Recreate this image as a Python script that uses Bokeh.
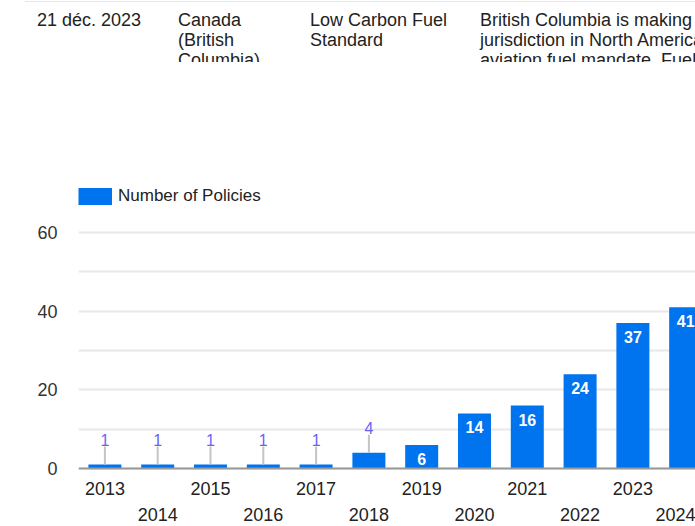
from bokeh.plotting import figure
from bokeh.models import (Range1d, FixedTicker, LinearAxis, Span, Div, ColumnDataSource)
from bokeh.layouts import column
from bokeh.core.properties import value
from bokeh.embed import file_html
from bokeh.resources import INLINE

# ---- data ----
years = [2013, 2014, 2015, 2016, 2017, 2018, 2019, 2020, 2021, 2022, 2023, 2024]
policies = [1, 1, 1, 1, 1, 4, 6, 14, 16, 24, 37, 41]
series_name = "Number of Policies"
y_ticks = [0, 20, 40, 60]
y_minor = [10, 30, 50]

table_date = "21 déc. 2023"
table_country = ["Canada", "(British", "Columbia)"]
table_policy = ["Low Carbon Fuel", "Standard"]
table_desc = ["British Columbia is making history as the first",
              "jurisdiction in North America to implement a",
              "aviation fuel mandate. Fuel suppliers will"]

FONT = "Liberation Sans"
BLUE = "#0073ee"

# ---- table row above the chart ----
def col_html(left, lines):
    return ('<div style="position:absolute;left:%dpx;top:10px;white-space:nowrap;">%s</div>'
            % (left, "<br>".join(lines)))

html = ('<div style="position:relative;width:695px;height:62px;overflow:hidden;'
        'font-family:\'Liberation Sans\',Arial,sans-serif;font-size:18px;line-height:20px;color:#222;">'
        '<div style="position:absolute;left:25px;right:0;top:1px;height:1px;background:#e6e6e6;"></div>'
        + col_html(37, [table_date])
        + col_html(178, table_country)
        + col_html(310, table_policy)
        + col_html(480, table_desc)
        + '</div>')
div = Div(text=html, width=695, height=62, margin=(0, 0, 0, 0), styles={"overflow": "hidden"})

# ---- chart ----
y_start, y_end = -0.5, 71.7
x_start, x_end = 2012.5, 2024.186
frame_h = 284

p = figure(width=695, height=464, output_backend="svg", toolbar_location=None,
           x_range=Range1d(x_start, x_end), y_range=Range1d(y_start, y_end),
           min_border_left=78, min_border_right=0, min_border_top=124, min_border_bottom=56,
           x_axis_location=None, margin=(0, 0, 0, 0))
p.outline_line_color = None
p.background_fill_color = "white"
p.xgrid.visible = False

p.yaxis.ticker = FixedTicker(ticks=y_ticks, minor_ticks=y_minor)
p.yaxis.axis_line_color = None
p.yaxis.major_tick_line_color = None
p.yaxis.minor_tick_line_color = None
p.yaxis.major_label_standoff = 15
p.yaxis.major_label_text_font = FONT
p.yaxis.major_label_text_font_size = "18px"
p.yaxis.major_label_text_color = "#333333"
p.ygrid.grid_line_color = "#e8e8e8"
p.ygrid.grid_line_width = 2
p.ygrid.minor_grid_line_color = "#e8e8e8"
p.ygrid.minor_grid_line_width = 2

odd_years = years[0::2]
even_years = years[1::2]
for ticks, standoff in ((odd_years, 11), (even_years, 10)):
    ax = LinearAxis(ticker=FixedTicker(ticks=ticks))
    ax.axis_line_color = None
    ax.major_tick_line_color = None
    ax.minor_tick_line_color = None
    ax.major_tick_out = 0
    ax.major_label_standoff = standoff
    ax.major_label_text_font = FONT
    ax.major_label_text_font_size = "18px"
    ax.major_label_text_color = "#222222"
    p.add_layout(ax, "below")

src = ColumnDataSource(dict(x=years, top=policies))
p.vbar(x="x", top="top", bottom=0, width=0.625, source=src, fill_color=BLUE, line_color=None)

# legend swatch via a thick line renderer (full-width swatch); NaN data so nothing is plotted
p.line(x=[float("nan")], y=[float("nan")], line_color=BLUE, line_width=17,
       line_cap="butt", legend_label=series_name)

p.add_layout(Span(location=0, dimension="width", line_color="#999999", line_width=2))

# labels: inside for tall bars, outside with leader for short ones
px_per_unit = frame_h / (y_end - y_start)
inside = [i for i, v in enumerate(policies) if v * px_per_unit >= 20]
outside = [i for i, v in enumerate(policies) if v * px_per_unit < 20]

p.text(x=[years[i] for i in inside], y=[policies[i] for i in inside],
       text=[str(policies[i]) for i in inside], y_offset=14,
       text_align="center", text_baseline="middle", text_color="white",
       text_font=value(FONT), text_font_style="bold", text_font_size="16px")

lead = 18 / px_per_unit
p.segment(x0=[years[i] for i in outside], y0=[policies[i] for i in outside],
          x1=[years[i] for i in outside], y1=[policies[i] + lead for i in outside],
          line_color="#c4c4c4", line_width=2)
p.text(x=[years[i] for i in outside], y=[policies[i] for i in outside],
       text=[str(policies[i]) for i in outside], y_offset=-25,
       text_align="center", text_baseline="middle", text_color="#6a62f4",
       text_font=value(FONT), text_font_size="16px")

lg = p.legend[0]
lg.location = "top_left"
lg.margin = 0
lg.padding = 0
lg.border_line_color = None
lg.background_fill_alpha = 0
lg.glyph_width = 34
lg.glyph_height = 20
lg.label_standoff = 6
lg.label_text_font = FONT
lg.label_text_font_size = "17px"
lg.label_text_color = "#222222"

layout = column(div, p)
open("out.html", "w").write(file_html(layout, INLINE))
